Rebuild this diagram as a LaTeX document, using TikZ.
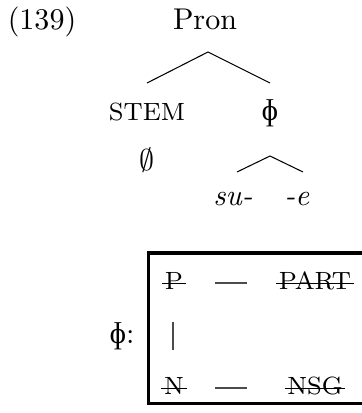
\documentclass[tikz,border=0pt]{standalone}
\usepackage{fontspec}
\newfontfamily\grk{Liberation Serif}
\newcommand\smcaps[1]{{\fontsize{8.3}{10}\selectfont #1}}
\tikzset{
  lbl/.style={inner sep=0pt, anchor=base},
  branch/.style={line width=0.35pt},
  conn/.style={line width=0.4pt, draw=black!70},
  frame/.style={line width=1pt},
  strikeline/.style={line width=0.45pt}
}
\begin{document}
\begin{tikzpicture}[x=0.333pt,y=-0.333pt]
\useasboundingbox (0,0) rectangle (362,413);
\clip (0,0) rectangle (362,413);
\node[lbl] (ex) at (42,30) {(139)};
\node[lbl] (pron) at (205,30) {Pron};
\coordinate (top) at (208,52);
\coordinate (tl) at (147,83);
\coordinate (tr) at (270,83);
\draw[branch] (tl) -- (top) -- (tr);
\node[lbl] (stem) at (147,121) {\smcaps{STEM}};
\node[lbl] (phi) at (270,121) {\grk ɸ};
\node[lbl] (empty) at (147,171) {$\emptyset$};
\coordinate (stop) at (270,156);
\coordinate (sl) at (237,172);
\coordinate (sr) at (303,172);
\draw[branch] (sl) -- (stop) -- (sr);
\node[lbl] (su) at (233,206) {\textit{su-}};
\node[lbl] (e) at (297,206) {\textit{-e}};
% box
\coordinate (bl) at (148,403);
\coordinate (tr2) at (370,253);
\draw[frame] (bl) rectangle (tr2);
\node[lbl] (philbl) at (122,343) {{\grk ɸ}:};
\node[lbl] (p) at (174,289) {\smcaps{P}};
\node[lbl] (part) at (315,289) {\smcaps{PART}};
\node[lbl] (n) at (174,394) {\smcaps{N}};
\node[lbl] (nsg) at (315,394) {\smcaps{NSG}};
\foreach \w in {p,part,n,nsg}
  \draw[strikeline] ([shift={(-2,-5.5)}]\w.base west) -- ([shift={(2,-5.5)}]\w.base east);
\coordinate (d1a) at (215,283);
\coordinate (d1b) at (247,283);
\coordinate (d2a) at (215,388);
\coordinate (d2b) at (247,388);
\coordinate (va) at (173,322);
\coordinate (vb) at (173,350);
\draw[conn] (d1a) -- (d1b);
\draw[conn] (d2a) -- (d2b);
\draw[conn] (va) -- (vb);
\end{tikzpicture}
\end{document}
